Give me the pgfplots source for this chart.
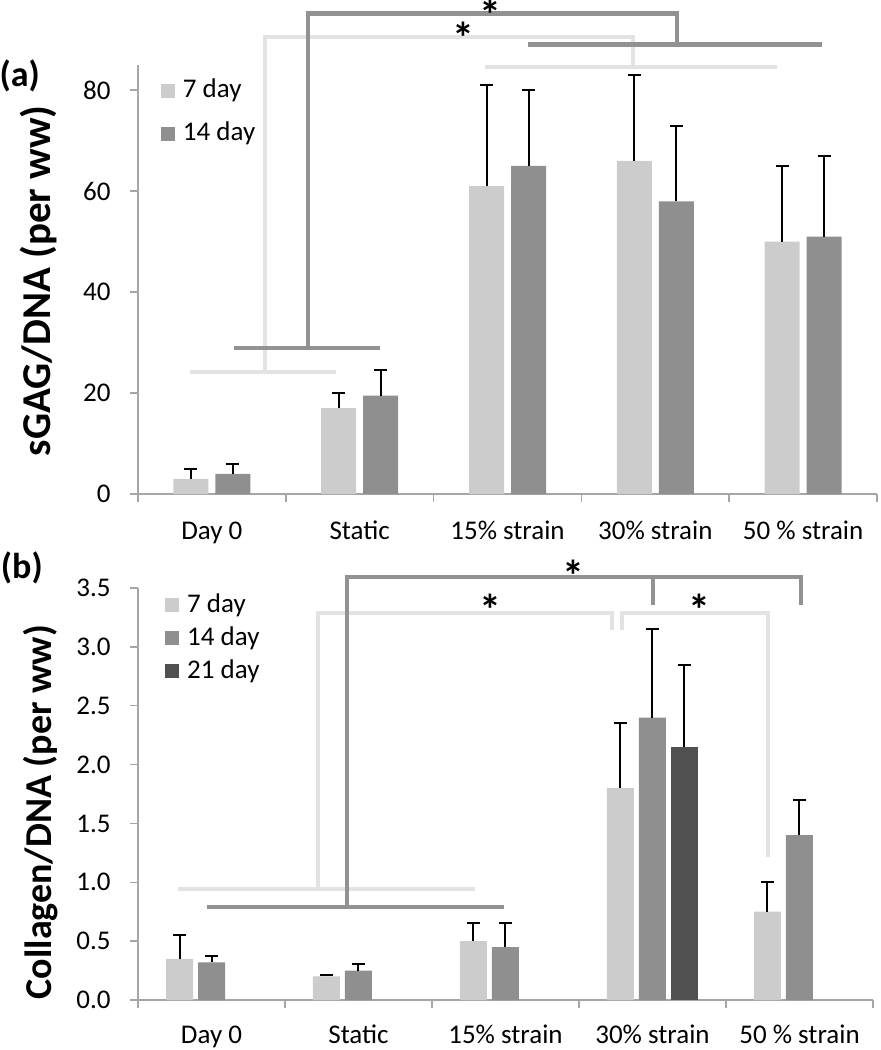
\documentclass[border=0pt]{standalone}
\usepackage{pgfplots}
\pgfplotsset{compat=1.18}
\usepackage{fontspec}
\setmainfont{Carlito}
\definecolor{cA}{HTML}{CCCCCC}
\definecolor{cB}{HTML}{8F8F8F}
\definecolor{cC}{HTML}{505050}
\definecolor{brL}{HTML}{E3E3E3}
\definecolor{brD}{HTML}{929292}
\definecolor{axc}{HTML}{A6A6A6}
\tikzset{sigstar/.style={font=\fontsize{22}{22}\selectfont\bfseries, inner sep=0pt, anchor=center, yshift=-3.7pt}}
\pgfplotsset{
  common/.style={
    scale only axis, clip=false,
    axis x line*=bottom, axis y line*=left,
    axis line style={axc, line width=0.75pt, -},
    xmin=-0.5, xmax=4.5, ymin=0,
    xtick={0,1,2,3,4},
    xticklabels={Day 0, Static, 15\% strain, 30\% strain, 50 \% strain},
    minor xtick={-0.5,0.5,1.5,2.5,3.5,4.5},
    minor tick length=4pt,
    major tick length=4pt,
    major x tick style={draw=none},
    minor x tick style={axc, line width=0.75pt},
    major y tick style={axc, line width=0.75pt},
    tick align=outside,
    /pgf/number format/assume math mode=true,
    tick label style={font=\fontsize{13.5}{16}\selectfont},
    yticklabel style={anchor=east, inner sep=0pt, xshift=-9.5pt},
    legend cell align=left,
    legend style={draw=none, fill=none, inner sep=0pt, outer sep=0pt, column sep=4pt,
       font=\fontsize{13.5}{16}\selectfont,
       nodes={inner sep=0pt, text height=10pt, text depth=3pt}},
    legend image code/.code={\fill[##1] (0pt,-3.5pt) rectangle (7pt,3.5pt);},
    ylabel style={anchor=center},
  },
  errb/.style={error bars/.cd, y dir=plus, y explicit,
     error bar style={black, line width=1pt},
     error mark options={black, line width=1pt, mark size=3.25pt, rotate=90}},
  bracket/.style={forget plot, no marks, sharp plot, line width=2.2pt, line join=miter},
}
\begin{document}
\begin{tikzpicture}
\path[use as bounding box] (0,0) rectangle (440.5pt,-525pt);
% ---------------- panel (a)
\begin{axis}[ybar=3.5pt, bar width=17.5pt, common, at={(69pt,-247pt)}, anchor=south west,
  width=369.5pt, height=214.5pt, ymax=85, ytick={0,20,40,60,80},
  xticklabel style={anchor=base, yshift=-18.5pt},
  ylabel={sGAG/DNA (per ww)},
  ylabel style={at={(axis description cs:-0.135,0.497)}, font=\fontsize{20.5}{24}\selectfont\bfseries},
  legend style={at={(axis description cs:0.031,0.97)}, anchor=north west, row sep=8.5pt}]
\addplot[fill=cA, draw=none, errb] coordinates {
 (0,3) +- (0,2) (1,17) +- (0,3) (2,61) +- (0,20) (3,66) +- (0,17) (4,50) +- (0,15)};
\addlegendentry{7 day}
\addplot[fill=cB, draw=none, errb] coordinates {
 (0,4) +- (0,2) (1,19.5) +- (0,5) (2,65) +- (0,15) (3,58) +- (0,15) (4,51) +- (0,16)};
\addlegendentry{14 day}
% light bracket
\addplot[bracket, brL] coordinates {(-0.148,24.2) (0.84,24.2)};
\addplot[bracket, brL] coordinates {(0.359,24.2) (0.359,90.5) (2.849,90.5) (2.849,84.6)};
\addplot[bracket, brL] coordinates {(1.848,84.6) (3.823,84.6)};
% dark bracket
\addplot[bracket, brD] coordinates {(0.15,28.9) (1.137,28.9)};
\addplot[bracket, brD] coordinates {(0.65,28.9) (0.65,95.2) (3.147,95.2) (3.147,89.1)};
\addplot[bracket, brD] coordinates {(2.139,89.1) (4.128,89.1)};
\node[sigstar] at (axis cs:1.699,91.9) {*};
\node[sigstar] at (axis cs:1.888,96.4) {*};
\node[font=\fontsize{18}{18}\selectfont\bfseries, inner sep=0pt] at (axis description cs:-0.160,0.975) {(a)};
\end{axis}
% ---------------- panel (b)
\begin{axis}[ybar=2.5pt, bar width=13.5pt, common, at={(69pt,-500pt)}, anchor=south west,
  width=367.5pt, height=206pt, ymax=3.5, ytick={0,0.5,1,1.5,2,2.5,3,3.5},
  xticklabel style={anchor=base, yshift=-17.8pt},
  y tick label style={/pgf/number format/fixed, /pgf/number format/fixed zerofill, /pgf/number format/precision=1},
  ylabel={Collagen/DNA (per ww)},
  ylabel style={at={(axis description cs:-0.132,0.456)}, font=\fontsize{19}{22}\selectfont\bfseries},
  legend style={at={(axis description cs:0.037,0.99)}, anchor=north west, row sep=3.5pt}]
\addplot[fill=cA, draw=none, errb] coordinates {
 (0,0.35) +- (0,0.20) (1,0.20) +- (0,0.01) (2,0.50) +- (0,0.15) (3,1.80) +- (0,0.55) (4,0.75) +- (0,0.25)};
\addlegendentry{7 day}
\addplot[fill=cB, draw=none, errb] coordinates {
 (0,0.32) +- (0,0.05) (1,0.25) +- (0,0.06) (2,0.45) +- (0,0.20) (3,2.40) +- (0,0.75) (4,1.40) +- (0,0.30)};
\addlegendentry{14 day}
\addplot[fill=cC, draw=none, errb] coordinates {
 (3,2.15) +- (0,0.70)};
\addlegendentry{21 day}
% light bracket
\addplot[bracket, brL] coordinates {(-0.228,0.943) (1.793,0.943)};
\addplot[bracket, brL] coordinates {(0.724,0.943) (0.724,3.288) (2.724,3.288) (2.724,3.14)};
\addplot[bracket, brL] coordinates {(2.793,3.14) (2.793,3.288) (3.786,3.288) (3.786,1.215)};
% dark bracket
\addplot[bracket, brD] coordinates {(-0.031,0.79) (1.99,0.79)};
\addplot[bracket, brD] coordinates {(0.922,0.79) (0.922,3.594) (4.01,3.594) (4.01,3.356)};
\addplot[bracket, brD] coordinates {(3.003,3.594) (3.003,3.356)};
\node[sigstar] at (axis cs:1.895,3.38) {*};
\node[sigstar] at (axis cs:3.32,3.38) {*};
\node[sigstar] at (axis cs:2.459,3.67) {*};
\node[font=\fontsize{18}{18}\selectfont\bfseries, inner sep=0pt] at (axis description cs:-0.158,1.049) {(b)};
\end{axis}
\end{tikzpicture}
\end{document}
